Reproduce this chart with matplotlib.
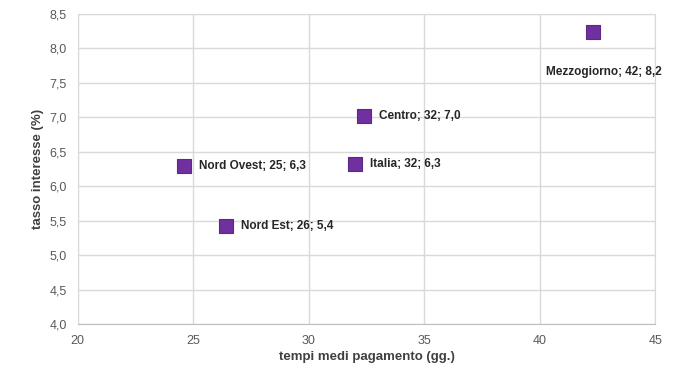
import matplotlib
matplotlib.use("Agg")
import matplotlib.pyplot as plt
from matplotlib.ticker import FuncFormatter

names = ["Nord Ovest", "Nord Est", "Centro", "Italia", "Mezzogiorno"]
tempi = [24.6, 26.4, 32.4, 32.0, 42.3]
tasso = [6.29, 5.42, 7.02, 6.32, 8.24]

plt.rcParams['font.family'] = ['Liberation Sans Narrow', 'Liberation Sans', 'DejaVu Sans']

fig = plt.figure(figsize=(7, 3.79), dpi=100)
ax = fig.add_axes([0.111, 0.145, 0.825, 0.818])

ax.scatter(tempi, tasso, marker='s', s=92, color='#7030A0', edgecolors='#5B2A86',
           linewidths=0.8, zorder=3)

for n, x, y in zip(names, tempi, tasso):
    txt = f"{n}; {round(x):d}; {y:.1f}".replace('.', ',')
    if n == "Mezzogiorno":
        ax.annotate(txt, (x, y), xytext=(8, -29), textcoords='offset points',
                    ha='center', va='center', fontsize=8.5, fontweight='bold', color='#262626')
    else:
        ax.annotate(txt, (x, y), xytext=(11, 0), textcoords='offset points',
                    ha='left', va='center', fontsize=8.5, fontweight='bold', color='#262626')

ax.set_xlim(20, 45)
ax.set_ylim(4.0, 8.5)
ax.set_xticks(range(20, 46, 5))
ax.set_yticks([4.0 + 0.5 * i for i in range(10)])
ax.yaxis.set_major_formatter(FuncFormatter(lambda v, p: f"{v:.1f}".replace('.', ',')))
ax.grid(True, color='#D9D9D9', linewidth=1.0)
ax.set_axisbelow(True)
for s in ['top', 'right', 'left']:
    ax.spines[s].set_color('#D9D9D9')
ax.spines['bottom'].set_color('#BFBFBF')
ax.tick_params(length=0, labelsize=9, labelcolor='#595959', pad=8)

ax.set_xlabel("tempi medi pagamento (gg.)", fontsize=9.5, fontweight='bold', color='#404040', labelpad=3)
ax.set_ylabel("tasso interesse (%)", fontsize=9.5, fontweight='bold', color='#404040', labelpad=4)

fig.savefig("out.png", dpi=100)
